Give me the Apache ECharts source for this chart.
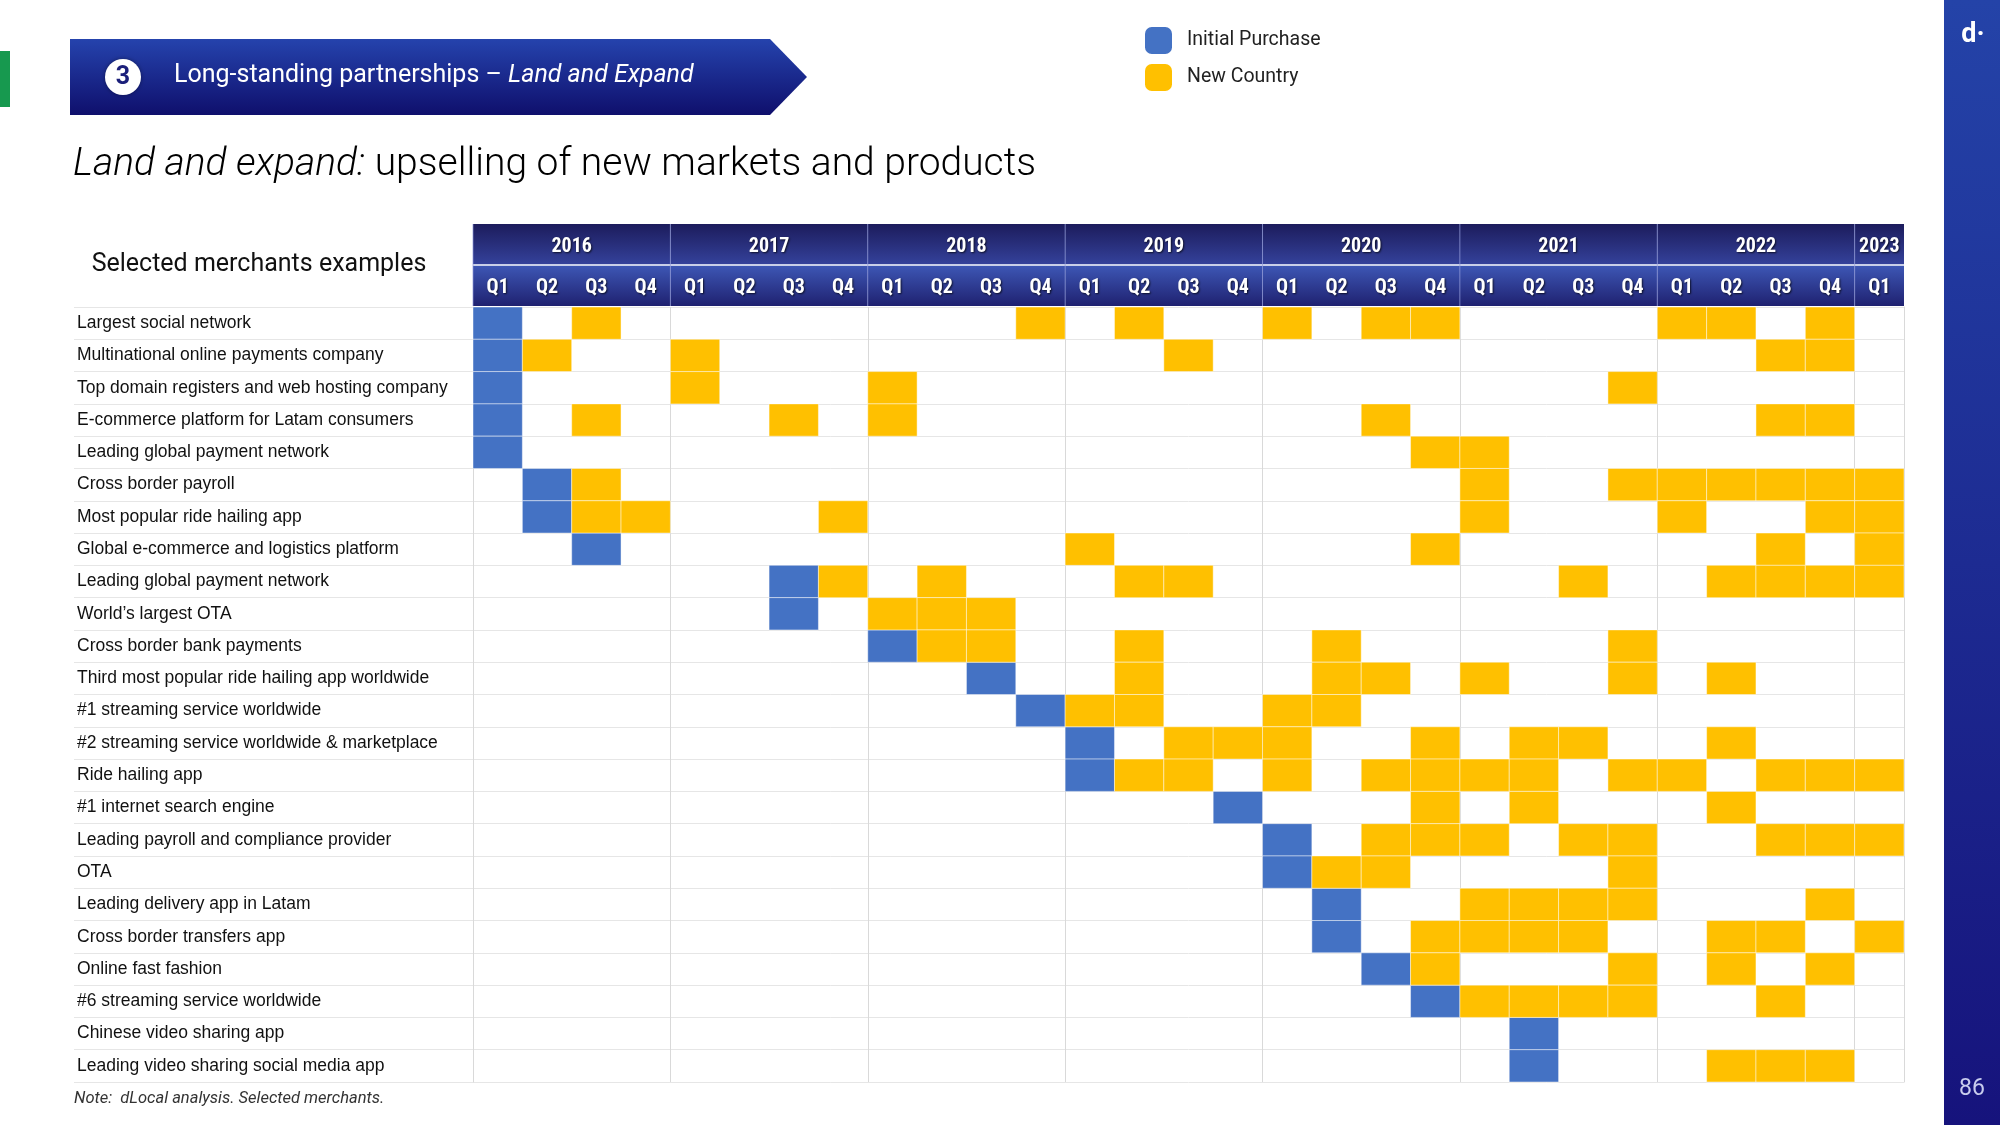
<!DOCTYPE html>
<html><head><meta charset="utf-8">
<script src="https://cdn.jsdelivr.net/npm/echarts@6/dist/echarts.min.js"></script>
<style>html,body{margin:0;padding:0;background:#fff}#c{width:2000px;height:1125px}</style>
</head><body><div id="c"></div>
<script>
// ---------- DATA ----------
const merchants = [
  'Largest social network',
  'Multinational online payments company',
  'Top domain registers and web hosting company',
  'E-commerce platform for Latam consumers',
  'Leading global payment network',
  'Cross border payroll',
  'Most popular ride hailing app',
  'Global e-commerce and logistics platform',
  'Leading global payment network',
  'World\u2019s largest OTA',
  'Cross border bank payments',
  'Third most popular ride hailing app worldwide',
  '#1 streaming service worldwide',
  '#2 streaming service worldwide & marketplace',
  'Ride hailing app',
  '#1 internet search engine',
  'Leading payroll and compliance provider',
  'OTA',
  'Leading delivery app in Latam',
  'Cross border transfers app',
  'Online fast fashion',
  '#6 streaming service worldwide',
  'Chinese video sharing app',
  'Leading video sharing social media app'
];
const quarters = [
  'Q1','Q2','Q3','Q4','Q1','Q2','Q3','Q4','Q1','Q2','Q3','Q4',
  'Q1','Q2','Q3','Q4','Q1','Q2','Q3','Q4','Q1','Q2','Q3','Q4',
  'Q1','Q2','Q3','Q4','Q1'
];
const years = ['2016','2017','2018','2019','2020','2021','2022','2023'];
const yearSpans = [4,4,4,4,4,4,4,1];
// quarter index (0 = 2016 Q1) of the initial purchase, one per merchant row
const initialPurchase = [0,0,0,0,0,1,1,2,6,6,8,10,11,12,12,15,16,16,17,17,18,19,21,21];
// quarter indexes of new-country expansions, per merchant row
const newCountry = [
  [2,11,13,16,18,19,24,25,27],
  [1,4,14,26,27],
  [4,8,23],
  [2,6,8,18,26,27],
  [19,20],
  [2,20,23,24,25,26,27,28],
  [2,3,7,20,24,27,28],
  [12,19,26,28],
  [7,9,13,14,22,25,26,27,28],
  [8,9,10],
  [9,10,13,17,23],
  [13,17,18,20,23,25],
  [12,13,16,17],
  [14,15,16,19,21,22,25],
  [13,14,16,18,19,20,21,23,24,26,27,28],
  [19,21,25],
  [18,19,20,22,23,26,27,28],
  [17,18,23],
  [20,21,22,23,27],
  [19,20,21,22,25,26,28],
  [19,23,25,27],
  [20,21,22,23,26],
  [],
  [25,26,27]
];

// ---------- BUILD ----------
const blueData = initialPurchase.map((q, r) => [q, r]);
const yellowData = [];
newCountry.forEach((arr, r) => arr.forEach(q => yellowData.push([q, r])));
const yearStarts = [];
yearSpans.reduce((acc, s) => { yearStarts.push(acc); return acc + s; }, 0);
const yearData = years.map((y, i) => [yearStarts[i], 0, yearSpans[i]]);
const quarterData = quarters.map((q, i) => [i, 1]);

function cellRender(params, api) {
  const p = api.coord([api.value(0), api.value(1)]);
  const s = api.size([1, 1]);
  return {
    type: 'rect',
    shape: { x: p[0] - s[0] / 2, y: p[1] - s[1] / 2, width: s[0], height: s[1] },
    style: { fill: api.visual('color'), stroke: 'rgba(255,255,255,0.45)', lineWidth: 1 }
  };
}
const headFont = '"Liberation Sans Narrow", "Roboto Condensed", Roboto, sans-serif';
function yearRender(params, api) {
  const start = api.value(0), span = api.value(2);
  const p = api.coord([start, 0]);
  const s = api.size([1, 1]);
  const x0 = p[0] - s[0] / 2, w = s[0] * span, y0 = p[1] - s[1] / 2, h = s[1];
  return {
    type: 'group',
    children: [
      { type: 'rect', shape: { x: x0, y: y0, width: w, height: h - 1 },
        style: { fill: new echarts.graphic.LinearGradient(0, 0, 0, 1, [
          { offset: 0, color: '#1c1c5c' }, { offset: 1, color: '#34419a' }]) } },
      { type: 'rect', shape: { x: x0, y: y0 + h + 1, width: w, height: h - 1 },
        style: { fill: new echarts.graphic.LinearGradient(0, 0, 0, 1, [
          { offset: 0, color: '#3d56b4' }, { offset: 1, color: '#1f2170' }]) } },
      { type: 'rect', shape: { x: x0, y: y0 + h - 1, width: w, height: 2 }, style: { fill: '#c9cfe8' } },
      { type: 'line', shape: { x1: x0, y1: y0, x2: x0, y2: y0 + 2 * h },
        style: { stroke: 'rgba(140,150,215,0.7)', lineWidth: 1 } },
      { type: 'text', style: {
        text: years[params.dataIndex], x: x0 + w / 2, y: y0 + h / 2 + 2,
        align: 'center', verticalAlign: 'middle', fill: '#ffffff',
        font: 'bold 20px ' + headFont,
        textShadowColor: 'rgba(0,0,0,0.7)', textShadowBlur: 2, textShadowOffsetX: 1, textShadowOffsetY: 1 } }
    ]
  };
}
function quarterRender(params, api) {
  const p = api.coord([api.value(0), api.value(1)]);
  return {
    type: 'text',
    style: {
      text: quarters[params.dataIndex], x: p[0], y: p[1] + 2,
      align: 'center', verticalAlign: 'middle', fill: '#ffffff',
      font: 'bold 20px ' + headFont,
      textShadowColor: 'rgba(0,0,0,0.7)', textShadowBlur: 2, textShadowOffsetX: 1, textShadowOffsetY: 1
    }
  };
}

const chart = echarts.init(document.getElementById('c'), null, { renderer: 'canvas' });
const gridL = 473, gridR = 96, gridT = 307, gridB = 43;
const option = {
  animation: false,
  backgroundColor: '#ffffff',
  legend: {
    data: [{ name: 'Initial Purchase', icon: 'roundRect' }, { name: 'New Country', icon: 'roundRect' }],
    orient: 'vertical', left: 1140, top: 22, itemWidth: 27, itemHeight: 27, itemGap: 10,
    selectedMode: false,
    textStyle: { fontSize: 19.5, color: '#222', fontFamily: 'Roboto', padding: [0, 0, 0, 10] }
  },
  grid: [
    { left: gridL, right: gridR, top: gridT, bottom: gridB },
    { left: 74, right: 2000 - gridL, top: gridT, bottom: gridB },
    { left: gridL, right: gridR, top: 224, height: 82 }
  ],
  xAxis: [
    { gridIndex: 0, type: 'category', data: quarters.map((q, i) => i + ''), position: 'top',
      axisLabel: { show: false }, axisTick: { show: false }, axisLine: { show: false },
      splitLine: { show: true, interval: (i) => i % 4 === 0, lineStyle: { color: '#d9d9d9', width: 1 } } },
    { gridIndex: 1, type: 'value', min: 0, max: 1, show: false },
    { gridIndex: 2, type: 'category', data: quarters.map((q, i) => i + ''), show: false }
  ],
  yAxis: [
    { gridIndex: 0, type: 'category', data: merchants.map((m, i) => i + ''), inverse: true,
      axisLabel: { show: false }, axisTick: { show: false },
      axisLine: { show: true, lineStyle: { color: '#d9d9d9' } },
      splitLine: { show: true, interval: 0, lineStyle: { color: '#e6e6e6', width: 1 } } },
    { gridIndex: 1, type: 'category', data: merchants, inverse: true,
      axisTick: { show: false }, axisLine: { show: false },
      axisLabel: { inside: true, margin: 3, fontSize: 17.5, color: '#111111', fontFamily: '"Liberation Sans", Arial, sans-serif' },
      splitLine: { show: true, interval: 0, lineStyle: { color: '#e6e6e6', width: 1 } } },
    { gridIndex: 2, type: 'category', data: ['year', 'quarter'], inverse: true, show: false },
    { gridIndex: 0, type: 'category', data: merchants.map((m, i) => i + ''), inverse: true, position: 'right',
      axisLabel: { show: false }, axisTick: { show: false },
      axisLine: { show: true, lineStyle: { color: '#d9d9d9' } }, splitLine: { show: false } }
  ],
  series: [
    { name: 'Initial Purchase', type: 'custom', xAxisIndex: 0, yAxisIndex: 0,
      itemStyle: { color: '#4472C4' }, renderItem: cellRender, data: blueData, encode: { x: 0, y: 1 } },
    { name: 'New Country', type: 'custom', xAxisIndex: 0, yAxisIndex: 0,
      itemStyle: { color: '#FFC000' }, renderItem: cellRender, data: yellowData, encode: { x: 0, y: 1 } },
    { name: 'labels', type: 'custom', xAxisIndex: 1, yAxisIndex: 1, renderItem: () => null, data: [] },
    { name: 'yearHeader', type: 'custom', xAxisIndex: 2, yAxisIndex: 2, renderItem: yearRender,
      data: yearData, encode: { x: 0, y: 1 }, silent: true },
    { name: 'quarterHeader', type: 'custom', xAxisIndex: 2, yAxisIndex: 2, renderItem: quarterRender,
      data: quarterData, encode: { x: 0, y: 1 }, silent: true, z: 5 }
  ],
  graphic: [
    { type: 'rect', shape: { x: 0, y: 51, width: 10, height: 56 }, style: { fill: '#17994f' } },
    { type: 'polygon', shape: { points: [[70, 39], [770, 39], [807, 77], [770, 115], [70, 115]] },
      style: { fill: new echarts.graphic.LinearGradient(0, 0, 0, 1, [
        { offset: 0, color: '#2543ad' }, { offset: 1, color: '#0f0f6c' }]) } },
    { type: 'circle', shape: { cx: 123, cy: 77, r: 18 }, style: { fill: '#ffffff', shadowColor: 'rgba(0,0,0,0.4)', shadowBlur: 4 } },
    { type: 'text', style: { text: '3', x: 123, y: 78, align: 'center', verticalAlign: 'middle',
      fill: '#1b1f7a', font: 'bold 25px Roboto' } },
    { type: 'text', style: { text: '{n|Long-standing partnerships \u2013 }{i|Land and Expand}', x: 174, y: 76,
      verticalAlign: 'middle',
      rich: { n: { fontSize: 25, fontFamily: 'Roboto', fill: '#ffffff', color: '#ffffff' },
              i: { fontSize: 25, fontFamily: 'Roboto', fontStyle: 'italic', fill: '#ffffff', color: '#ffffff' } } } },
    { type: 'text', style: { text: '{i|Land and expand:}{n| upselling of new markets and products}', x: 73, y: 165,
      verticalAlign: 'middle',
      rich: { n: { fontSize: 39, fontFamily: 'Roboto', fontWeight: 300, color: '#1a1a1a' },
              i: { fontSize: 39, fontFamily: 'Roboto', fontWeight: 300, fontStyle: 'italic', color: '#1a1a1a' } } } },
    { type: 'text', style: { text: 'Selected merchants examples', x: 259, y: 265, align: 'center', verticalAlign: 'middle',
      fill: '#111', font: '25px Roboto' } },
    { type: 'text', style: { text: 'Note:  dLocal analysis. Selected merchants.', x: 74, y: 1099, verticalAlign: 'middle',
      fill: '#333', font: 'italic 16.5px Roboto' } },
    { type: 'rect', shape: { x: 1944, y: 0, width: 56, height: 1125 },
      style: { fill: new echarts.graphic.LinearGradient(0, 0, 0, 1, [
        { offset: 0, color: '#2443a8' }, { offset: 1, color: '#16137c' }]) } },
    { type: 'text', style: { text: 'd\u00b7', x: 1973, y: 35, align: 'center', verticalAlign: 'middle',
      fill: '#ffffff', font: 'bold 27px Roboto' } },
    { type: 'text', style: { text: '86', x: 1972, y: 1089, align: 'center', verticalAlign: 'middle',
      fill: '#c8cced', font: '23px Roboto' } }
  ]
};
chart.setOption(option);
</script>
</body></html>
